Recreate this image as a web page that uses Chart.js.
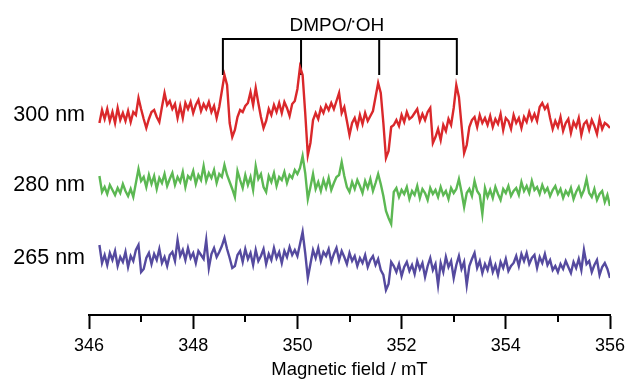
<!DOCTYPE html>
<html>
<head>
<meta charset="utf-8">
<script src="https://cdn.jsdelivr.net/npm/chart.js@4.4.1/dist/chart.umd.min.js"></script>
<style>
  html, body { margin: 0; padding: 0; background: #fff; }
  #wrap { width: 626px; height: 381px; }
</style>
</head>
<body>
<div id="wrap"><canvas id="epr_chart" width="626" height="381"></canvas></div>
<script>
// field axis of the spectra (mT)
var fieldStart = 346.2;
var fieldStep = 0.05;

// spectra, signal relative to each trace's own baseline
var red300 = [
  -8, 5, -4, 6, -6, 3, -8, 7, -5, 2,
  -6, 4, -7, 3, 0, 17, 6, -4, -13, -4,
  3, 5, -2, -7, 8, 22, 10, 14, 6, 11,
  -3, 9, -3, 12, 6, 13, 2, 10, 15, 4,
  11, 6, 13, 3, 9, -3, 8, 24, 40, 30,
  -8, -22, -15, -2, 5, 3, 9, 12, 23, 10,
  27, 12, -2, -13, -6, 6, 0, 10, 3, 12,
  2, 13, 7, -1, 11, 14, 26, 48, 40, 2,
  -40, -28, -5, 2, -4, 7, 2, 10, 5, 12,
  6, 14, 22, 2, 8, -6, -20, -8, -3, -12,
  0, -9, 2, -6, -1, 4, 18, 32, 22, -8,
  -43, -36, -12, -10, -5, -11, 0, -7, 3, -4,
  -2, 2, 6, -6, 1, -5, 3, 7, -28, -22,
  -14, -25, -10, -16, -4, -10, 7, 30, 18, -10,
  -38, -30, -12, -5, -2, -12, 0, -8, -3, -10,
  -1, -12, -4, -9, 1, -15, -3, -6, -14, 0,
  -8, -3, -13, -2, -7, 3, -5, 1, -6, 8,
  12, 6, 10, -3, -14, -6, -12, -2, -16, -8,
  -4, -18, -7, -12, -3, -20, -9, -6, -15, -5,
  -11, -19, -4, -14, -8, -10, -13
];
var green280 = [
  9, -7, -2, -9, 0, -5, -10, -3, -8, 1,
  -6, -11, -4, -12, 2, 16, 4, 8, -2, 10,
  1, 9, -4, 7, 2, 11, -1, 6, 12, 0,
  8, 3, 13, -2, 9, 6, 14, 1, 10, 5,
  19, 4, 12, 7, 15, 2, 11, 8, 20, 10,
  3, -4, -12, 14, 5, -3, 10, 0, 8, -5,
  19, 6, 11, -2, -7, 9, 3, 12, -1, 8,
  5, 13, 2, 10, 7, 15, 11, 17, 29, 12,
  -14, -2, 11, -4, 3, -6, 5, -3, 7, -5,
  2, 8, 10, 23, 9, -2, -7, 3, -4, 5,
  -1, -8, 4, -3, 6, -6, 2, 11, 1, -11,
  -26, -33, -39, -7, -3, -12, -5, -9, -2, -14,
  -6, -10, -1, -13, -4, -8, -15, -3, -9, -5,
  -12, -2, -10, -6, -14, -3, -8, -4, 6, -7,
  -22, -8, -4, -11, 4, -6, -10, -29, -3, -12,
  -5, -13, -2, -9, -15, -4, -8, -1, -11, -6,
  -3, -10, 3, -6, -1, -8, 4, -5, -2, -9,
  0, -7, -3, -11, -5, -1, -9, -4, -13, -6,
  -10, -3, -14, -7, -2, -11, -5, 6, -8, -12,
  -4, -15, -9, -6, -17, -10, -21
];
var purple265 = [
  13, -5, 3, -7, 5, -2, 7, -8, 1, -4,
  6, -9, 2, -3, 8, 13, -14, -11, 0, 5,
  -6, 4, -2, 9, -5, 1, -8, 3, 6, -3,
  18, 2, 8, -2, 10, 0, 5, -5, 7, 3,
  -1, 18, -10, 4, 10, 1, 6, 12, 20, 9,
  0, -10, -8, 3, 7, -4, 9, -1, 5, -7,
  8, -3, 2, 9, -6, 4, -2, 10, 0, 6,
  -5, 7, 1, 11, 3, 8, 2, 14, 26, 5,
  -20, -6, 8, 0, 10, -3, 6, 2, 9, -4,
  4, 10, -2, 7, 1, -6, 5, -3, 2, -8,
  0, -5, 3, -9, -2, 2, -7, -1, -12, -17,
  -32, -26, -4, -8, -14, -6, -18, -9, -4, -13,
  -7, -16, -3, -11, -5, -19, -8, 0, -12, -6,
  -27, -5, -14, 1, -9, -3, -20, -7, 2, -11,
  -4, -27, -8, -1, 5, -10, -3, -15, -6, -12,
  -2, -14, -7, -17, -4, -10, -1, -13, -8, -5,
  2, -8, 4, -3, 5, -6, 0, 3, -10, 1,
  -5, 4, -7, -2, -12, -8, -14, -6, -11, -3,
  -9, -15, -4, -10, -1, -12, 8, -6, -3, -14,
  -7, -2, -17, -9, -5, -11, -20
];

var traceNames = ["300 nm", "280 nm", "265 nm"];
var traceOffsets = [200, 130, 57];
var traceColors = ["#da282b", "#5cb853", "#554a9f"];

// DMPO/OH quartet line positions (mT)
var dmpoLines = [348.57, 350.07, 351.57, 353.06];
var dmpoLabel = ["DMPO/", "OH"];   // radical dot drawn between

var xTicksMin = 346;
var xTicksMax = 356;

var fontFam = "'Liberation Sans', Arial, sans-serif";

function make_trace(values, offset) {
    var pts = [];
    for (var i = 0; i < values.length; i++) {
        pts.push({x: fieldStart + i * fieldStep, y: values[i] + offset});
    }
    return pts;
}

// bracket as one polyline: down-up at each line, across the top
function make_bracket(lines, top, bottom) {
    var pts = [];
    for (var i = 0; i < lines.length; i++) {
        if (i > 0) pts.push({x: lines[i], y: top});
        pts.push({x: lines[i], y: bottom});
        pts.push({x: lines[i], y: top});
    }
    return pts;
}

var datasets = [];
var series = [red300, green280, purple265];
for (var s = 0; s < series.length; s++) {
    datasets.push({
        label: traceNames[s],
        data: make_trace(series[s], traceOffsets[s]),
        borderColor: traceColors[s],
        borderWidth: 2.4,
        pointRadius: 0,
        tension: 0
    });
}
datasets.push({
    label: "bracket",
    data: make_bracket(dmpoLines, 276, 240),
    borderColor: "#000",
    borderWidth: 2,
    pointRadius: 0,
    tension: 0
});

// minor ticks on odd fields and the bracket label
var extras = {
    id: "extras",
    afterDraw: function(chart) {
        var ctx = chart.ctx;
        var xs = chart.scales.x;
        var ys = chart.scales.y;
        var bottom = chart.chartArea.bottom;
        ctx.save();
        ctx.strokeStyle = "#000";
        ctx.lineWidth = 2;
        for (var v = xTicksMin + 1; v < xTicksMax; v += 2) {
            var px = Math.round(xs.getPixelForValue(v));
            ctx.beginPath();
            ctx.moveTo(px, bottom);
            ctx.lineTo(px, bottom + 7);
            ctx.stroke();
        }
        // label: "DMPO/" + dot + "OH"
        var mid = (dmpoLines[0] + dmpoLines[dmpoLines.length - 1]) / 2;
        ctx.fillStyle = "#000";
        ctx.font = "19px " + fontFam;
        ctx.textAlign = "left";
        ctx.textBaseline = "alphabetic";
        var w1 = ctx.measureText(dmpoLabel[0]).width;
        var w2 = ctx.measureText(dmpoLabel[1]).width;
        var gap = 4;
        var x0 = xs.getPixelForValue(mid) - (w1 + gap + w2) / 2 - 3;
        var base = ys.getPixelForValue(284);
        ctx.fillText(dmpoLabel[0], x0, base);
        ctx.fillRect(x0 + w1 + 0.5, base - 10.5, 2, 2);
        ctx.fillText(dmpoLabel[1], x0 + w1 + gap, base);
        ctx.restore();
    }
};

var chart = new Chart(document.getElementById("epr_chart"), {
    type: "line",
    data: {datasets: datasets},
    plugins: [extras],
    options: {
        responsive: false,
        animation: false,
        layout: {padding: {top: 15, right: 16, left: 0, bottom: 0}},
        plugins: {legend: {display: false}, tooltip: {enabled: false}},
        scales: {
            x: {
                type: "linear",
                min: xTicksMin,
                max: xTicksMax,
                afterFit: function(scale) {
                    scale.height = 66;
                    scale.paddingRight = 0;
                    scale.paddingLeft = 0;
                },
                border: {display: true, color: "#000", width: 2},
                grid: {
                    drawOnChartArea: false,
                    tickLength: 14,
                    tickWidth: 2,
                    tickColor: function(c) { return c.tick && c.tick.value % 2 === 0 ? "#000" : "rgba(0,0,0,0)"; }
                },
                ticks: {
                    stepSize: 1,
                    autoSkip: false,
                    maxRotation: 0,
                    padding: 6,
                    color: "#000",
                    font: {family: fontFam, size: 18},
                    callback: function(v) { return v % 2 === 0 ? String(v) : ""; }
                },
                title: {
                    display: true,
                    text: "Magnetic field / mT",
                    color: "#000",
                    padding: {top: 0, bottom: 0},
                    font: {family: fontFam, size: 18.5}
                }
            },
            y: {
                type: "linear",
                min: 0,
                max: 300,
                afterFit: function(scale) {
                    scale.width = 89;
                    scale.paddingTop = 0;
                    scale.paddingBottom = 0;
                },
                afterBuildTicks: function(scale) {
                    scale.ticks = traceOffsets.map(function(v) { return {value: v}; });
                },
                border: {display: false},
                grid: {display: false, drawTicks: false},
                ticks: {
                    padding: 4,
                    color: "#000",
                    font: {family: fontFam, size: 21.5},
                    callback: function(v) {
                        var k = traceOffsets.indexOf(v);
                        return k >= 0 ? traceNames[k] : "";
                    }
                }
            }
        }
    }
});
</script>
</body>
</html>
